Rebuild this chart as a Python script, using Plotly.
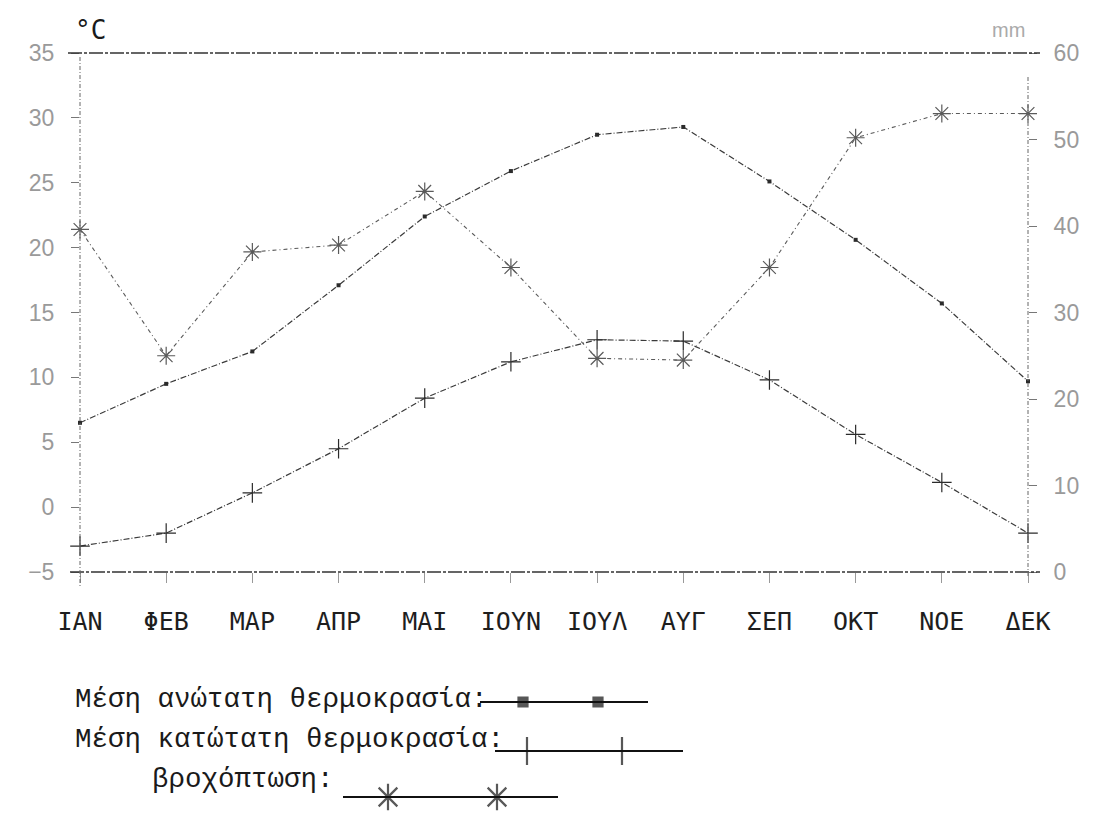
import plotly.graph_objects as go

# ---- data ----
months = ["ΙΑΝ", "ΦΕΒ", "ΜΑΡ", "ΑΠΡ", "ΜΑΙ", "ΙΟΥΝ", "ΙΟΥΛ", "ΑΥΓ", "ΣΕΠ", "ΟΚΤ", "ΝΟΕ", "ΔΕΚ"]
t_max = [6.5, 9.5, 12.0, 17.1, 22.4, 25.9, 28.7, 29.3, 25.1, 20.6, 15.7, 9.7]
t_min = [-3.0, -2.0, 1.1, 4.5, 8.4, 11.2, 12.9, 12.8, 9.8, 5.6, 1.9, -2.0]
rain = [39.6, 25.0, 37.0, 37.8, 44.0, 35.2, 24.7, 24.5, 35.2, 50.2, 53.0, 53.0]

temp_ticks = [-5, 0, 5, 10, 15, 20, 25, 30, 35]
rain_ticks = [0, 10, 20, 30, 40, 50, 60]

legend_labels = ["Μέση ανώτατη θερμοκρασία:", "Μέση κατώτατη θερμοκρασία:", "βροχόπτωση:"]

# ---- layout constants (pixels in a 1104x819 page) ----
W, H = 1104, 819
PL, PR, PT, PB = 80, 1028, 53, 572

INK = "#2b2b2b"
GREY = "#9a9a9a"
MONO = "DejaVu Sans Mono"

fig = go.Figure()

fig.add_trace(go.Scatter(
    x=months, y=t_max, mode="lines+markers", name="max",
    line=dict(color="#3a3a3a", width=1.2, dash="6px,2px,1px,2px"),
    marker=dict(symbol="square", size=4, color=INK),
    cliponaxis=False, showlegend=False))
fig.add_trace(go.Scatter(
    x=months, y=t_min, mode="lines+markers", name="min",
    line=dict(color="#3a3a3a", width=1.2, dash="6px,2px,1px,2px"),
    marker=dict(symbol="cross-thin", size=14, line=dict(color=INK, width=1.2)),
    cliponaxis=False, showlegend=False))
fig.add_trace(go.Scatter(
    x=months, y=rain, mode="lines+markers", name="rain", yaxis="y2",
    line=dict(color="#5a5a5a", width=1.1, dash="4px,3px,1px,3px"),
    marker=dict(symbol="asterisk-open", size=15, line=dict(color=INK, width=1.2)),
    cliponaxis=False, showlegend=False))

# ---- legend samples on a page-sized overlay axis ----
leg_rows = [
    dict(x=[480, 523, 598, 648], y=702, sym="square", size=[0, 9, 9, 0]),
    dict(x=[495, 527, 622, 683], y=751, sym="cross-thin", size=[0, 20, 20, 0]),
    dict(x=[343, 388, 497, 558], y=797, sym="asterisk-open", size=[0, 22, 22, 0]),
]
for r in leg_rows:
    fig.add_trace(go.Scatter(
        x=r["x"], y=[r["y"]] * 4, xaxis="x3", yaxis="y3", mode="lines+markers",
        line=dict(color="#111", width=2),
        marker=dict(symbol=r["sym"], size=r["size"], color="#111",
                    line=dict(color="#111", width=2.2)),
        cliponaxis=False, showlegend=False, hoverinfo="skip"))

legend_pos = [(73, 699), (73, 739), (150, 779)]
annotations = []
for lab, (lx, ly) in zip(legend_labels, legend_pos):
    annotations.append(dict(x=lx, y=ly, xref="x3", yref="y3", text=lab, showarrow=False,
                            xanchor="left", yanchor="middle",
                            font=dict(family="Liberation Mono", size=27.5, color="#1a1a1a")))
annotations.append(dict(x=90, y=30, xref="x3", yref="y3", text="°C", showarrow=False,
                        font=dict(family=MONO, size=26, color="#1a1a1a")))
annotations.append(dict(x=1008, y=30, xref="x3", yref="y3", text="mm", showarrow=False,
                        font=dict(family="Liberation Sans", size=20, color="#aaaaaa")))

shapes = [
    dict(type="line", xref="x3", yref="y3", x0=68, x1=1040, y0=PT, y1=PT,
         line=dict(color="#333", width=1.3, dash="14px,2px,3px,2px")),
    dict(type="line", xref="x3", yref="y3", x0=70, x1=1040, y0=PB, y1=PB,
         line=dict(color="#333", width=1.3, dash="14px,2px,3px,2px")),
    dict(type="line", xref="x3", yref="y3", x0=PL, x1=PL, y0=PT + 4, y1=PB + 14,
         line=dict(color="#666", width=1, dash="4px,2px,1px,2px")),
    dict(type="line", xref="x3", yref="y3", x0=PR, x1=PR, y0=77, y1=PB + 6,
         line=dict(color="#666", width=1, dash="4px,2px,1px,2px")),
]

fig.update_layout(
    template="none",
    width=W, height=H,
    margin=dict(l=0, r=0, t=0, b=0, autoexpand=False),
    paper_bgcolor="white", plot_bgcolor="rgba(0,0,0,0)",
    showlegend=False,
    xaxis=dict(domain=[PL / W, PR / W], type="category", range=[0, 11],
               tickmode="array", tickvals=months, ticktext=months,
               showgrid=False, zeroline=False, showline=False, automargin=False,
               ticks="outside", ticklen=10, tickcolor="#999", tickwidth=1,
               ticklabelstandoff=17,
               tickfont=dict(family=MONO, size=25, color="#1e1e1e"),
               anchor="y"),
    yaxis=dict(domain=[(H - PB) / H, (H - PT) / H], range=[-5, 35],
               tickvals=temp_ticks, showgrid=False, zeroline=False, showline=False,
               automargin=False,
               ticks="outside", ticklen=8, tickcolor="#777", tickwidth=1,
               ticklabelstandoff=12,
               tickfont=dict(family="Liberation Sans", size=23, color=GREY),
               anchor="x"),
    yaxis2=dict(overlaying="y", side="right", range=[0, 60], tickvals=rain_ticks,
                showgrid=False, zeroline=False, showline=False, automargin=False,
                ticks="outside", ticklen=8, tickcolor="#777", tickwidth=1,
                ticklabelstandoff=12,
                tickfont=dict(family="Liberation Sans", size=23, color=GREY),
                anchor="x"),
    xaxis3=dict(domain=[0, 1], range=[0, W], visible=False, anchor="y3",
                fixedrange=True, automargin=False),
    yaxis3=dict(domain=[0, 1], range=[H, 0], visible=False, anchor="x3",
                fixedrange=True, automargin=False),
    annotations=annotations,
    shapes=shapes,
)

fig.write_html("out.html",
               config={"displayModeBar": False},
               post_script="document.body.style.margin='0';document.body.style.overflow='hidden';")
